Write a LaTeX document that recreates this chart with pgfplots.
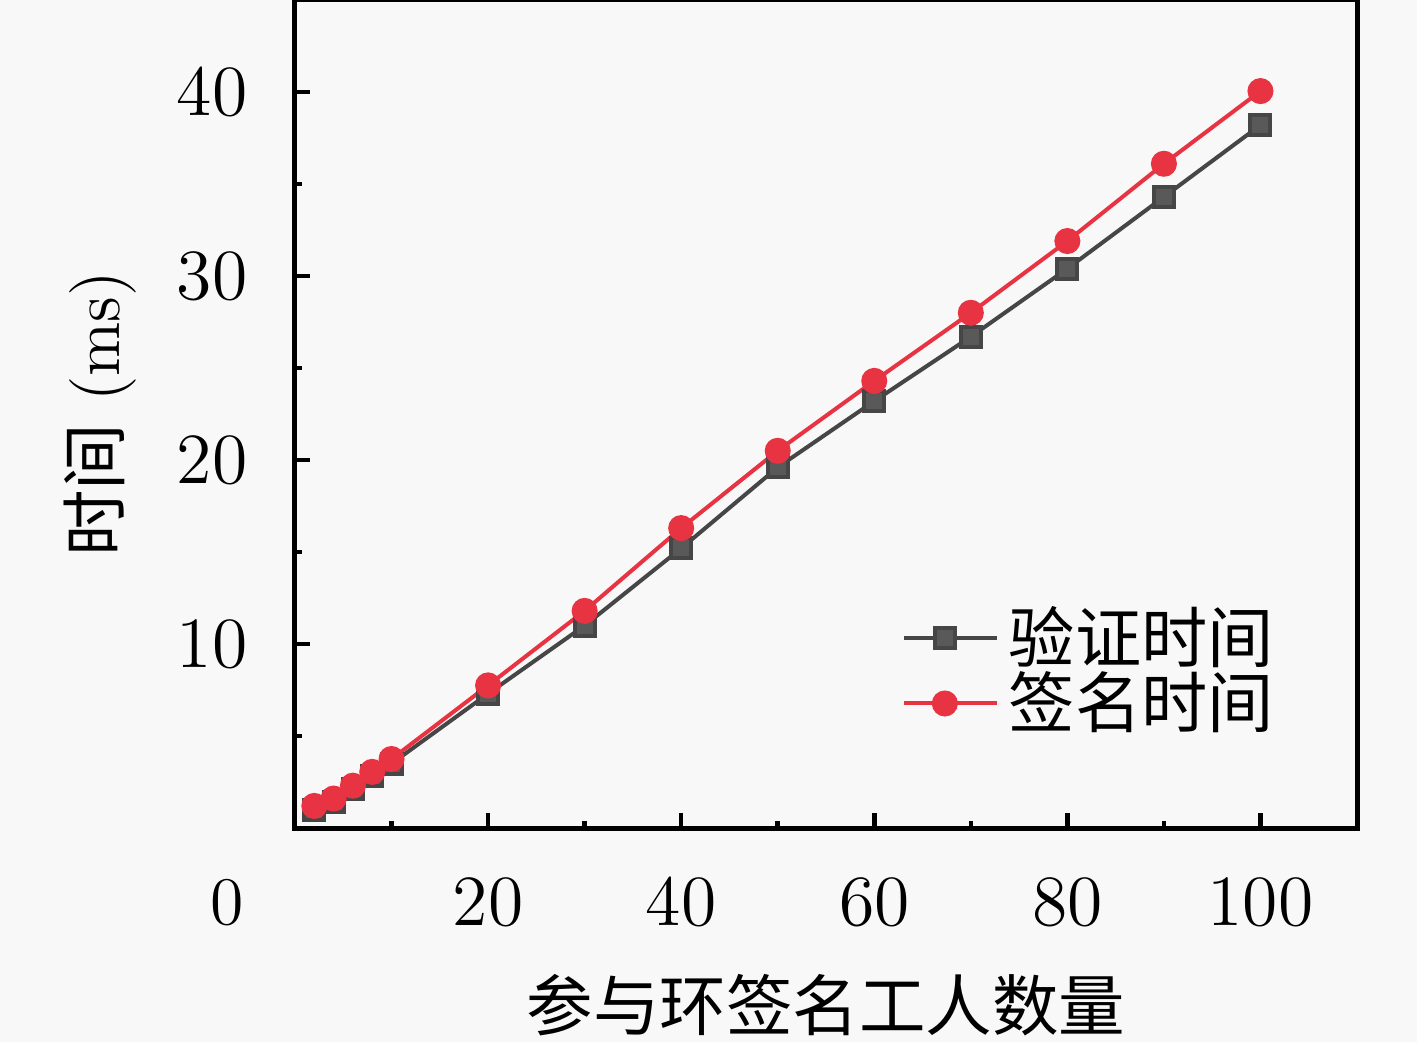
\documentclass[border=0pt]{standalone}
\usepackage{pgfplots}
\pgfplotsset{compat=1.18}
\usepackage{fontspec}
\newfontfamily\cjk{Noto Sans CJK SC}
\definecolor{bg}{RGB}{248,248,248}
\definecolor{sgray}{RGB}{70,70,70}
\definecolor{sred}{RGB}{232,52,66}
\begin{document}
\begin{tikzpicture}
\fill[bg] (-59pt,-42.8pt) rectangle (224.4pt,165.6pt);
\begin{axis}[
  at={(0,0)}, anchor=south west,
  scale only axis, width=212.4pt, height=165.6pt,
  xmin=0, xmax=110, ymin=0, ymax=45,
  axis line style={line width=1pt},
  xtick={20,40,60,80,100},
  minor xtick={10,30,50,70,90},
  ytick={10,20,30,40},
  minor ytick={5,15,25,35},
  tick pos=left, tick align=inside,
  major tick length=3pt, minor tick length=1.5pt,
  tick style={line width=0.9pt, black},
  ticklabel style={font=\fontsize{13.6}{15}\selectfont},
  xticklabel style={yshift=-6.6pt},
  yticklabel style={xshift=-6pt},
  xlabel={\cjk\fontsize{13.3}{15}\selectfont 参与环签名工人数量},
  ylabel={\fontsize{13.3}{15}\selectfont{\cjk 时间} (ms)},
  xlabel style={at={(axis description cs:0.5,-0.2138)}, anchor=center},
  ylabel style={at={(axis description cs:-0.1836,0.5)}, anchor=center},
  legend style={draw=none, fill=none, at={(0.5705,0.19)}, anchor=west,
    font=\cjk\fontsize{13.25}{15}\selectfont, row sep=-3.6pt, inner sep=0pt},
  legend cell align=left,
  legend image code/.code={\path (0pt,0pt) -- (18.6pt,0pt); \draw[#1] (0pt,0pt) -- (16.4pt,0pt); \draw[#1,mark repeat=2,mark phase=2] plot coordinates {(0pt,0pt) (8.2pt,0pt) (16.4pt,0pt)};},
]
\addplot[color=sgray, line width=0.8pt, mark=square*, mark size=2pt, mark options={fill=sgray!90!white}]
 coordinates {(2,1.0) (4,1.4) (6,2.1) (8,2.8) (10,3.5) (20,7.3) (30,11.0) (40,15.2) (50,19.6) (60,23.2) (70,26.7) (80,30.4) (90,34.3) (100,38.2)};
\addlegendentry{验证时间}
\addplot[color=sred, line width=0.8pt, mark=*, mark size=2.2pt, mark options={fill=sred}]
 coordinates {(2,1.2) (4,1.6) (6,2.3) (8,3.05) (10,3.75) (20,7.75) (30,11.8) (40,16.3) (50,20.5) (60,24.3) (70,28.0) (80,31.9) (90,36.1) (100,40.05)};
\addlegendentry{签名时间}
\end{axis}
\node[font=\fontsize{13.6}{15}\selectfont] at (-13.6pt,-15pt) {0};
\pgfresetboundingbox
\useasboundingbox (-59pt,-42.8pt) rectangle (224.4pt,165.6pt);
\end{tikzpicture}
\end{document}
